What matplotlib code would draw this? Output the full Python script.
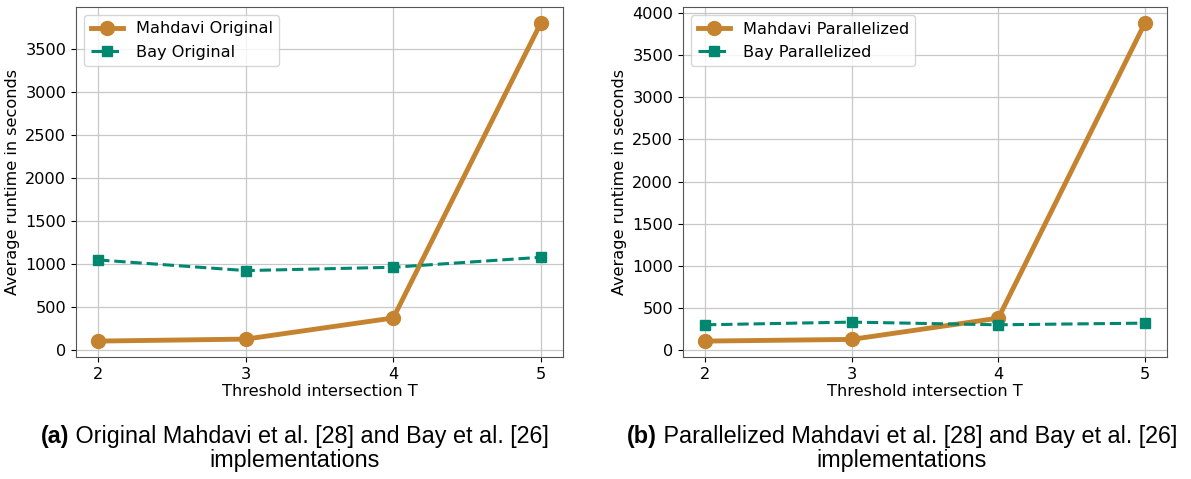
import matplotlib
matplotlib.use("Agg")
import matplotlib.pyplot as plt

thresholds = [2, 3, 4, 5]
mahdavi_original = [108, 131, 377, 3809]
bay_original = [1052, 928, 967, 1083]
mahdavi_parallel = [110, 130, 382, 3881]
bay_parallel = [303, 335, 303, 323]

legend_a = ["Mahdavi Original", "Bay Original"]
legend_b = ["Mahdavi Parallelized", "Bay Parallelized"]
caption_a = ["(a)", " Original Mahdavi et al. [28] and Bay et al. [26]", "implementations"]
caption_b = ["(b)", " Parallelized Mahdavi et al. [28] and Bay et al. [26]", "implementations"]
xlabel = "Threshold intersection T"
ylabel = "Average runtime in seconds"

ORANGE = "#C5832F"
TEAL = "#00876F"

fig = plt.figure(figsize=(11.91, 4.79), dpi=100)
W, H = 1191, 479
ax1 = fig.add_axes([76 / W, (H - 357) / H, 487 / W, 350 / H])
ax2 = fig.add_axes([683 / W, (H - 357) / H, 484 / W, 350 / H])

FS = 11.6
for ax, m, b, leg in [(ax1, mahdavi_original, bay_original, legend_a),
                      (ax2, mahdavi_parallel, bay_parallel, legend_b)]:
    ax.plot(thresholds, m, color=ORANGE, lw=3.5, marker="o", ms=10, label=leg[0], zorder=3)
    ax.plot(thresholds, b, color=TEAL, lw=2.2, ls="--", marker="s", ms=6.5, label=leg[1], zorder=3)
    ax.set_xticks(thresholds)
    ax.grid(True, color="#c8c8c8", lw=0.9)
    ax.set_axisbelow(True)
    ax.tick_params(labelsize=FS)
    ax.set_xlabel(xlabel, fontsize=FS, labelpad=2)
    ax.set_ylabel(ylabel, fontsize=FS)
    for s in ax.spines.values():
        s.set_color("#555555")
    ax.legend(loc="upper left", fontsize=FS, framealpha=0.8)

fig.canvas.draw()
r = fig.canvas.get_renderer()

CAP_FS = 16.8

def caption(cx, cap):
    y1 = (H - 443) / H
    y2 = (H - 467) / H
    cf = ["Liberation Sans", "Arial", "DejaVu Sans"]
    t1 = fig.text(0, y1, cap[0], fontsize=CAP_FS, fontweight="bold", family=cf, va="baseline", ha="left")
    t2 = fig.text(0, y1, cap[1], fontsize=CAP_FS, family=cf, va="baseline", ha="left")
    w1 = t1.get_window_extent(r).width
    w2 = t2.get_window_extent(r).width
    tot = w1 + w2
    x0 = cx - tot / 2
    t1.set_x(x0 / W)
    t2.set_x((x0 + w1) / W)
    fig.text(cx / W, y2, cap[2], fontsize=CAP_FS, family=cf, va="baseline", ha="center")

caption(295, caption_a)
caption(902, caption_b)

fig.savefig("out.png", dpi=100)
